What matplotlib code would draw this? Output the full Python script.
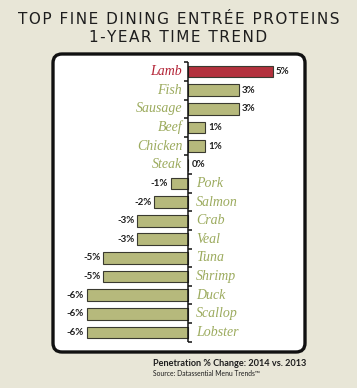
import matplotlib
matplotlib.use("Agg")
import matplotlib.pyplot as plt
from matplotlib.patches import FancyBboxPatch

categories = ["Lamb", "Fish", "Sausage", "Beef", "Chicken", "Steak", "Pork", "Salmon",
              "Crab", "Veal", "Tuna", "Shrimp", "Duck", "Scallop", "Lobster"]
values = [5, 3, 3, 1, 1, 0, -1, -2, -3, -3, -5, -5, -6, -6, -6]
highlight = "Lamb"

title_lines = ["TOP FINE DINING ENTRÉE PROTEINS", "1-YEAR TIME TREND"]
footer = "Penetration % Change: 2014 vs. 2013"
source = "Source: Datassential Menu Trends\u2122"

BG = "#e8e6d7"
GREEN_BAR = "#b6b97c"
GREEN_TXT = "#9cab5e"
RED_BAR = "#b3313d"
RED_TXT = "#b32235"
DARK = "#1e1e1e"

W, H = 357, 388
fig = plt.figure(figsize=(W / 100, H / 100), dpi=100)
fig.patch.set_facecolor(BG)


def spaced(s):
    return "\u200a".join(s)


# background layer in pixel coordinates
bg = fig.add_axes([0, 0, 1, 1])
bg.set_xlim(0, W)
bg.set_ylim(H, 0)
bg.axis("off")
panel = FancyBboxPatch((53, 54), 252, 298, boxstyle="round,pad=0,rounding_size=9",
                       facecolor="white", edgecolor="#111111", linewidth=2.4)
bg.add_patch(panel)
bg.text(178.5, 19, spaced(title_lines[0]), ha="center", va="center", fontsize=11.0,
        color=DARK, family="DejaVu Sans")
bg.text(178.5, 37, spaced(title_lines[1]), ha="center", va="center", fontsize=11.0,
        color=DARK, family="DejaVu Sans")
bg.text(153, 363, footer, ha="left", va="center", fontsize=6.6, fontweight="bold",
        color=DARK, family="Lato")
bg.text(153, 374, source, ha="left", va="center", fontsize=4.9,
        color=DARK, family="Lato")

# chart axes
ax = fig.add_axes([55 / W, 1 - 352 / H, (303 - 55) / W, (352 - 55) / H])
ax.patch.set_alpha(0)
n = len(categories)
ypos = list(range(n))
colors = [RED_BAR if c == highlight else GREEN_BAR for c in categories]
ax.barh(ypos, values, height=0.63, color=colors, edgecolor="#3a3a30", linewidth=0.8, zorder=2)
ax.set_xlim(-7.86, 6.77)
ax.set_ylim(15.05, -0.89)
ax.axis("off")

# axis line and ticks
ax.plot([0, 0], [-0.5, n - 0.5], color="#111111", lw=1.1, zorder=3, solid_capstyle="butt")
tick_len = 0.25
for b in range(n + 1):
    yb = b - 0.5
    above = values[b - 1] if b - 1 >= 0 else values[0]
    below = values[b] if b < n else values[-1]
    side = -1 if (above >= 0 and below >= 0) else 1
    ax.plot([0, side * tick_len], [yb, yb], color="#111111", lw=1.1, zorder=3,
            solid_capstyle="butt")

LABEL_FONT = "Liberation Serif"
for i, (c, v) in enumerate(zip(categories, values)):
    txtcol = RED_TXT if c == highlight else GREEN_TXT
    if v >= 0:
        ax.text(-0.35, i, c, ha="right", va="center", fontsize=10, style="italic",
                color=txtcol, family=LABEL_FONT)
        ax.text(v + 0.18, i, f"{v}%", ha="left", va="center", fontsize=7,
                fontweight="bold", color=DARK, family="Lato")
    else:
        ax.text(0.45, i, c, ha="left", va="center", fontsize=10, style="italic",
                color=txtcol, family=LABEL_FONT)
        ax.text(v - 0.18, i, f"{v}%", ha="right", va="center", fontsize=7,
                fontweight="bold", color=DARK, family="Lato")

fig.savefig("out.png", dpi=100, facecolor=BG)
